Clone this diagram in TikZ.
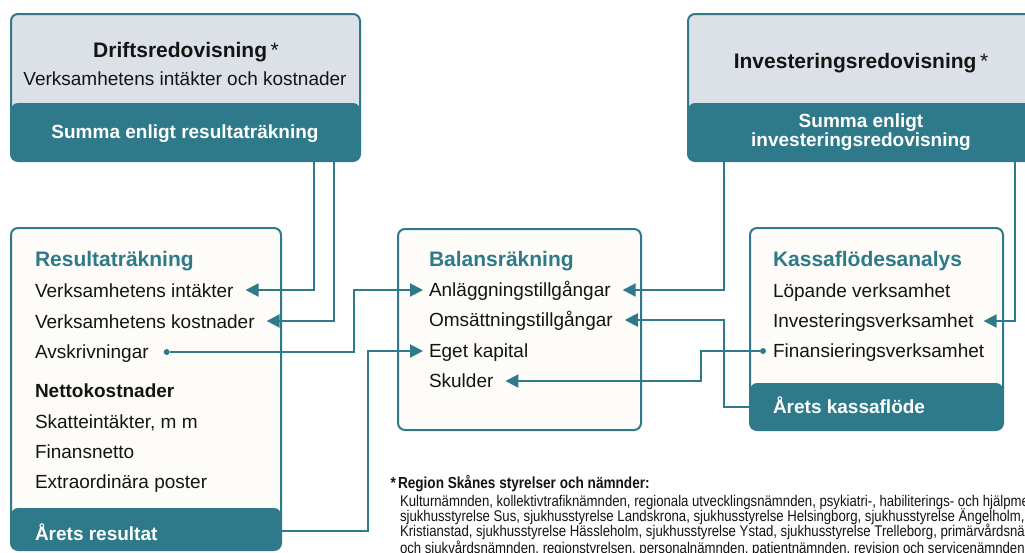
\documentclass[tikz,border=0pt]{standalone}
\usepackage{fontspec}
\setmainfont{Liberation Sans}
\newfontfamily\fnfont{Liberation Sans}[FakeStretch=0.85]
\usetikzlibrary{arrows.meta,calc}
\definecolor{tealc}{RGB}{46,122,138}
\definecolor{grayc}{RGB}{219,225,230}
\definecolor{creamc}{RGB}{253,252,248}
\definecolor{inkc}{RGB}{20,20,20}
\begin{document}
\begin{tikzpicture}[x=1pt,y=-1pt,
  boxbase/.style={draw=tealc, line width=2pt, rounded corners=7pt, outer sep=0pt, inner sep=0pt, anchor=north west},
  lightbox/.style={boxbase, fill=grayc},
  creambox/.style={boxbase, fill=creamc},
  band/.style={path picture={\fill[tealc] ([yshift=#1]path picture bounding box.south west) rectangle (path picture bounding box.south east);}},
  body/.style={anchor=base west, inner sep=0pt, outer sep=0pt, text=inkc, font=\fontsize{19}{19}\selectfont},
  bodyb/.style={body, font=\fontsize{19}{19}\selectfont\bfseries},
  stitle/.style={body, text=tealc, font=\fontsize{21}{21}\selectfont\bfseries},
  htitle/.style={body, anchor=base, font=\fontsize{21}{21}\selectfont\bfseries},
  wtext/.style={body, text=white, font=\fontsize{19}{19}\selectfont\bfseries},
  fnline/.style={anchor=base west, inner sep=0pt, outer sep=0pt, text=inkc, font=\fnfont\fontsize{15.5}{15.5}\selectfont},
  fnbold/.style={fnline, font=\fnfont\fontsize{16}{16}\selectfont\bfseries},
  conn/.style={draw=tealc, line width=2pt},
  arr/.style={conn, -{Triangle[length=13pt,width=13pt]}},
  dot/.style={circle, fill=tealc, inner sep=0pt, minimum size=6pt}
]
\useasboundingbox (0,0) rectangle (1025,552);
\clip (0,0) rectangle (1025,552);
\fill[white] (0,0) rectangle (1025,552);

% ---- boxes
\node[lightbox, band=58pt, minimum width=349pt, minimum height=147pt] (drift) at (11,14) {};
\node[lightbox, band=58pt, minimum width=346pt, minimum height=147pt] (inv) at (688,14) {};
\node[creambox, band=42pt, minimum width=270pt, minimum height=322pt] (res) at (11,228) {};
\node[creambox, minimum width=243pt, minimum height=201pt] (bal) at (398,229) {};
\node[creambox, band=47pt, minimum width=253pt, minimum height=202pt] (kas) at (750,228) {};

% ---- Driftsredovisning
\node[htitle] (dt) at (186,57) {Driftsredovisning\,{\mdseries *}};
\node[body, anchor=base] (ds) at (185,85) {Verksamhetens intäkter och kostnader};
\node[wtext, anchor=base] (dsum) at (185,138) {Summa enligt resultaträkning};

% ---- Investeringsredovisning
\node[htitle] (it) at (861,68) {Investeringsredovisning\,{\mdseries *}};
\node[wtext, anchor=base] (is1) at (861,127) {Summa enligt};
\node[wtext, anchor=base] (is2) at (861,146) {investeringsredovisning};

% ---- Resultaträkning
\node[stitle] (rt) at (35,266) {Resultaträkning};
\node[body] (r1) at (35,297) {Verksamhetens intäkter};
\node[body] (r2) at (35,328) {Verksamhetens kostnader};
\node[body] (r3) at (35,358) {Avskrivningar};
\node[bodyb] (r4) at (35,397) {Nettokostnader};
\node[body] (r5) at (35,428) {Skatteintäkter, m m};
\node[body] (r6) at (35,458) {Finansnetto};
\node[body] (r7) at (35,488) {Extraordinära poster};
\node[wtext] (r8) at (35,540) {Årets resultat};

% ---- Balansräkning
\node[stitle] (bt) at (429,266) {Balansräkning};
\node[body] (b1) at (429,296) {Anläggningstillgångar};
\node[body] (b2) at (429,326) {Omsättningstillgångar};
\node[body] (b3) at (429,357) {Eget kapital};
\node[body] (b4) at (429,387) {Skulder};

% ---- Kassaflödesanalys
\node[stitle] (kt) at (773,266) {Kassaflödesanalys};
\node[body] (k1) at (773,297) {Löpande verksamhet};
\node[body] (k2) at (773,327) {Investeringsverksamhet};
\node[body] (k3) at (773,357) {Finansieringsverksamhet};
\node[wtext] (k4) at (773,413) {Årets kassaflöde};

% ---- connector points
\coordinate (d1) at ([xshift=303pt]drift.south west);
\coordinate (d2) at ([xshift=323pt]drift.south west);
\coordinate (i1) at ([xshift=36pt]inv.south west);
\coordinate (i2) at ([xshift=327pt]inv.south west);
\coordinate (xa) at (354,0);
\coordinate (xb) at (368,0);
\coordinate (xc) at (701,0);

\coordinate (t1) at ($(r1.base east)+(12,-7)$);
\coordinate (t2) at ($(r2.base east)+(12,-7)$);
\coordinate (t3) at ($(b1.base west)+(-6,-6)$);
\coordinate (t4) at ($(b3.base west)+(-6,-6)$);
\coordinate (t5) at ($(b1.base east)+(12,-6)$);
\coordinate (t6) at ($(b2.base east)+(12,-6)$);
\coordinate (t7) at ($(b4.base east)+(12,-6)$);
\coordinate (t8) at ($(k2.base east)+(10,-6)$);

\node[dot] (dv) at ($(r3.base east)+(18,-6)$) {};
\node[dot] (df) at ($(k3.base west)+(-10,-6)$) {};
\coordinate (r8m) at ($(r8.base west)+(0,-9)$);
\coordinate (s4) at (res.east |- r8m);
\coordinate (s6) at ([yshift=23.5pt]kas.south west);

% ---- connectors
\draw[arr] (d1) |- (t1);
\draw[arr] (d2) |- (t2);
\draw[arr] (dv) -| (xa |- t3) -- (t3);
\draw[arr] (s4) -| (xb |- t4) -- (t4);
\draw[arr] (i1) |- (t5);
\draw[arr] (s6) -| (i1 |- t6) -- (t6);
\draw[arr] (df) -| (xc |- t7) -- (t7);
\draw[arr] (i2) |- (t8);

% ---- footnote
\node[fnbold] (fnh) at (398,488) {Region Skånes styrelser och nämnder:};
\node[fnbold, anchor=base east] (fna) at ([xshift=-2pt]fnh.base west) {*};
\node[fnline] (f1) at (400,506) {Kulturnämnden, kollektivtrafiknämnden, regionala utvecklingsnämnden, psykiatri-, habiliterings- och hjälpmedelsnämnden,};
\node[fnline] (f2) at (400,521) {sjukhusstyrelse Sus, sjukhusstyrelse Landskrona, sjukhusstyrelse Helsingborg, sjukhusstyrelse Ängelholm, sjukhusstyrelse};
\node[fnline] (f3) at (400,536) {Kristianstad, sjukhusstyrelse Hässleholm, sjukhusstyrelse Ystad, sjukhusstyrelse Trelleborg, primärvårdsnämnden,};
\node[fnline] (f4) at (400,553) {och sjukvårdsnämnden, regionstyrelsen, personalnämnden, patientnämnden, revision och servicenämnden.};
\end{tikzpicture}
\end{document}
